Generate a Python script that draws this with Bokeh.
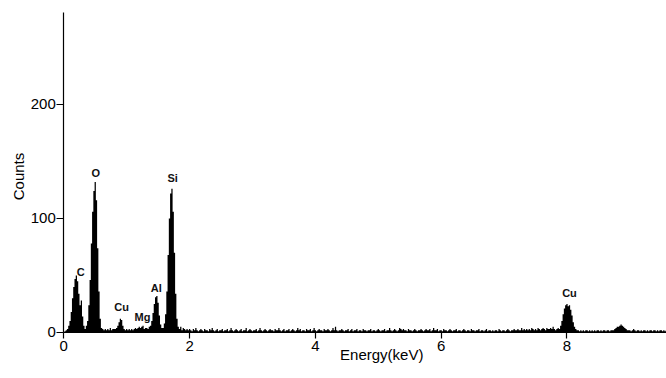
import numpy as np
from bokeh.plotting import figure
from bokeh.models import ColumnDataSource, FixedTicker, Label, Range1d
from bokeh.core.properties import value
from bokeh.embed import file_html
from bokeh.resources import INLINE

# EDS spectrum, 0.02 keV channels starting at 0 keV
CHANNEL_WIDTH = 0.02

# 0.00 - 1.98 keV : C, O, Cu-L, Mg, Al, Si lines
counts_low = [
    0, 1, 2, 3, 6, 10, 18, 30, 40, 47,
    50, 45, 34, 24, 28, 14, 6, 3, 6, 10,
    24, 46, 78, 106, 124, 132, 116, 74, 36, 12,
    4, 3, 2, 3, 2, 3, 2, 4, 2, 3,
    3, 3, 4, 6, 9, 12, 11, 6, 3, 2,
    3, 2, 3, 2, 3, 2, 3, 4, 3, 4,
    5, 4, 5, 6, 3, 4, 4, 3, 5, 6,
    10, 17, 25, 31, 32, 26, 15, 7, 4, 4,
    8, 16, 36, 68, 100, 122, 126, 106, 70, 34,
    12, 5, 3, 5, 2, 4, 3, 2, 3, 2,
]

# 2.00 - 7.78 keV : bremsstrahlung background
counts_background = [
    3, 2, 1, 3, 2, 4, 2, 1, 2, 3,
    2, 1, 3, 2, 2, 1, 3, 2, 4, 2,
    1, 2, 3, 1, 2, 2, 3, 1, 2, 2,
    3, 1, 2, 4, 2, 1, 2, 3, 2, 1,
    2, 3, 1, 2, 2, 4, 1, 2, 3, 2,
    1, 2, 2, 3, 1, 2, 4, 2, 1, 2,
    3, 2, 1, 2, 3, 2, 2, 1, 3, 2,
    2, 4, 2, 1, 2, 3, 1, 2, 2, 3,
    1, 2, 3, 2, 1, 2, 4, 2, 3, 1,
    2, 2, 1, 3, 2, 2, 3, 1, 2, 4,
    2, 1, 2, 3, 2, 2, 1, 3, 2, 2,
    3, 2, 1, 2, 4, 2, 5, 2, 1, 2,
    2, 3, 2, 1, 2, 2, 3, 1, 2, 3,
    1, 2, 2, 3, 1, 2, 2, 1, 3, 2,
    2, 1, 2, 2, 3, 1, 2, 2, 1, 2,
    3, 2, 1, 2, 2, 3, 1, 2, 2, 4,
    2, 1, 2, 3, 2, 1, 2, 4, 3, 2,
    3, 2, 2, 1, 3, 2, 2, 1, 2, 3,
    2, 1, 2, 2, 3, 2, 1, 2, 3, 2,
    2, 3, 1, 2, 4, 2, 2, 3, 1, 2,
    2, 1, 3, 2, 2, 1, 2, 3, 2, 1,
    2, 2, 3, 1, 2, 2, 1, 2, 3, 2,
    1, 2, 2, 1, 3, 2, 2, 1, 2, 2,
    3, 1, 2, 2, 1, 2, 3, 1, 2, 2,
    1, 2, 1, 2, 2, 1, 3, 2, 1, 2,
    2, 1, 2, 3, 2, 1, 2, 2, 3, 2,
    2, 3, 2, 2, 4, 2, 3, 2, 3, 2,
    3, 2, 4, 3, 2, 3, 2, 4, 3, 2,
    3, 4, 3, 2, 4, 3, 3, 4, 3, 5,
]

# 7.80 - 9.58 keV : Cu K-alpha and K-beta
counts_cu_k = [
    3, 2, 3, 4, 3, 6, 10, 16, 21, 24,
    25, 23, 24, 20, 15, 9, 5, 3, 2, 2,
    1, 2, 1, 2, 1, 2, 2, 1, 2, 1,
    2, 1, 2, 1, 2, 2, 1, 2, 1, 2,
    2, 1, 2, 2, 1, 2, 2, 2, 3, 4,
    5, 5, 6, 7, 6, 5, 4, 3, 2, 2,
    2, 1, 2, 3, 2, 1, 2, 2, 1, 2,
    1, 2, 2, 1, 2, 1, 2, 2, 1, 2,
    2, 1, 2, 1, 2, 2, 1, 2, 1, 2,
]

# peak annotations: element, energy (keV), counts at the label's baseline
element_names = ["C", "O", "Cu", "Mg", "Al", "Si", "Cu"]
element_energy = [0.27, 0.51, 0.92, 1.25, 1.47, 1.73, 8.04]
element_label_counts = [48, 135, 17, 8, 34, 130, 29]

x_ticks = [0, 2, 4, 6, 8]
y_ticks = [0, 100, 200]

counts = counts_low + counts_background + counts_cu_k
energy = np.arange(len(counts)) * CHANNEL_WIDTH

spectrum = ColumnDataSource(dict(energy=energy, counts=counts,
                                 base=np.zeros(len(counts))))
labels = ColumnDataSource(dict(x=element_energy, y=element_label_counts,
                               text=element_names))

# the frame fills the whole canvas; the axes sit at x = 0 and y = 0
p = figure(width=666, height=378,
           x_range=Range1d(-1.006, 9.582), y_range=Range1d(-40.35, 291.2),
           output_backend="svg", toolbar_location=None,
           min_border=0, min_border_left=0, min_border_right=0,
           min_border_top=0, min_border_bottom=0)
p.outline_line_color = None
p.xgrid.visible = False
p.ygrid.visible = False
p.background_fill_color = "white"
p.border_fill_color = "white"

p.varea_step(x="energy", y1="base", y2="counts", step_mode="center",
             fill_color="black", source=spectrum)

p.text(x="x", y="y", text="text", source=labels,
       text_font=value("Liberation Sans"), text_font_style="bold",
       text_font_size="11px", text_align="center", text_baseline="bottom",
       text_color="#111111")

for ax in (p.xaxis[0], p.yaxis[0]):
    ax.fixed_location = 0
    ax.axis_line_color = "black"
    ax.axis_line_width = 1.2
    ax.major_tick_line_color = "black"
    ax.major_tick_line_width = 1.2
    ax.major_tick_in = 0
    ax.minor_tick_line_color = None
    ax.major_label_text_font = "Liberation Sans"
    ax.major_label_text_font_size = "15px"
    ax.major_label_text_color = "black"

p.xaxis.bounds = (0, 10)
p.yaxis.bounds = (0, 280.7)
p.xaxis.ticker = FixedTicker(ticks=x_ticks)
p.yaxis.ticker = FixedTicker(ticks=y_ticks)
p.xaxis.major_tick_out = 6
p.yaxis.major_tick_out = 7
p.xaxis.major_label_standoff = 3
p.yaxis.major_label_standoff = 1

p.add_layout(Label(x=5.055, y=-19.3, text="Energy(keV)",
                   text_font="Liberation Sans", text_font_size="15px",
                   text_align="center", text_baseline="middle",
                   text_color="black"))
p.add_layout(Label(x=-0.72, y=136.8, text="Counts", angle=np.pi / 2,
                   text_font="Liberation Sans", text_font_size="15px",
                   text_align="center", text_baseline="middle",
                   text_color="black"))

open("out.html", "w").write(file_html(p, INLINE))
